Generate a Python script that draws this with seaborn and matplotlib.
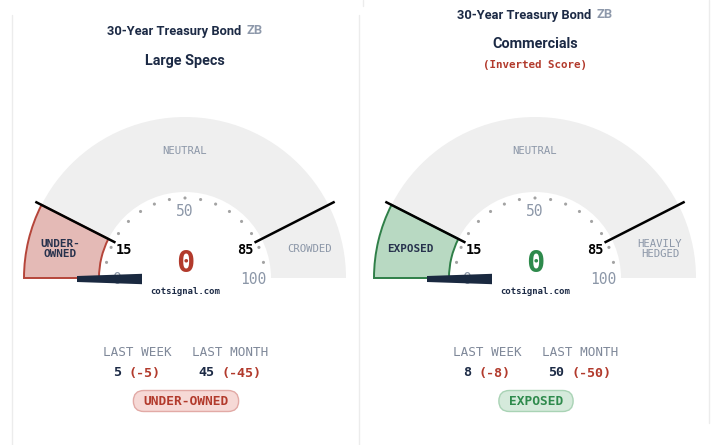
import numpy as np
import pandas as pd
import matplotlib
matplotlib.use("Agg")
import matplotlib.pyplot as plt
from matplotlib import font_manager
from matplotlib.patches import Wedge, Polygon, FancyBboxPatch
import seaborn as sns

# ---------------- data ----------------
instrument = "30-Year Treasury Bond"
ticker = "ZB"
panel_titles = ["Large Specs", "Commercials"]
panel_subtitles = ["", "(Inverted Score)"]
scores = [0, 0]
last_week = [5, 8]
last_week_change = [-5, -8]
last_month = [45, 50]
last_month_change = [-45, -50]
low_threshold = 15
high_threshold = 85
scale_labels = [0, 50, 100]
low_zone_labels = ["UNDER-\nOWNED", "EXPOSED"]
mid_zone_label = "NEUTRAL"
high_zone_labels = ["CROWDED", "HEAVILY\nHEDGED"]
status_labels = ["UNDER-OWNED", "EXPOSED"]
watermark = "cotsignal.com"

# ---------------- style ----------------
W, H = 719, 445
sns.set_theme(style="white")
plt.rcParams["font.family"] = ["DejaVu Sans"]
MONO = "DejaVu Sans Mono"
_names = {f.name for f in font_manager.fontManager.ttflist}
SANS = "Liberation Sans Narrow" if "Liberation Sans Narrow" in _names else "Roboto"
TSIZE = 10.0 if SANS != "Roboto" else 9.3
SUBSIZE = 11.3 if SANS != "Roboto" else 10.4
NAVY = "#1c2a45"
GREYTXT = "#8c97a8"
RED = "#b23a2c"
zone_fill = ["#e4bab6", "#b8d9c2"]
zone_edge = ["#b5453a", "#2f7f48"]
score_color = ["#b23a2c", "#2e8a4c"]
pill_fill = ["#f6d9d6", "#d5eadb"]
pill_edge = ["#e2aaa6", "#a9d3b5"]
pill_text = ["#b23a2c", "#2e8a4c"]

fig = plt.figure(figsize=(W / 100, H / 100), dpi=100)
ax = fig.add_axes([0, 0, 1, 1])
ax.set_xlim(0, W)
ax.set_ylim(H, 0)
ax.axis("off")
renderer = fig.canvas.get_renderer()


def text_width(s, **kw):
    t = ax.text(0, 0, s, **kw)
    bb = t.get_window_extent(renderer=renderer)
    t.remove()
    return bb.width


def centered_segments(xc, y, segs, gap=0, **kw):
    widths = [text_width(s, **kw) for s, c in segs]
    total = sum(widths) + gap * (len(segs) - 1)
    x = xc - total / 2
    for (s, c), w in zip(segs, widths):
        ax.text(x, y, s, color=c, ha="left", va="center", **kw)
        x += w + gap


def ang(v):
    return np.deg2rad(180 - v * 1.8)


# panel borders
for x, y0, y1 in [(12, 15, H), (359, 15, H), (362.5, 0, 6), (709, 0, 423)]:
    ax.plot([x, x], [y0, y1], color="#ececec", lw=1, zorder=0)

centers = [185, 535]
CY = 278
R_OUT, R_IN = 161, 86

# tick dots data
dot_vals = np.arange(1, 16) * 100 / 16
dot_rows = []
for i, cx in enumerate(centers):
    for v in dot_vals:
        dot_rows.append({"x": cx + 80 * np.cos(ang(v)), "y": CY - 80 * np.sin(ang(v))})
dots = pd.DataFrame(dot_rows)

for i, cx in enumerate(centers):
    # header
    if panel_subtitles[i]:
        centered_segments(cx, 15, [(instrument, NAVY), (ticker, "#8e99ab")], gap=5,
                          fontfamily=SANS, fontweight="bold", fontsize=TSIZE)
        ax.text(cx, 44, panel_titles[i], ha="center", va="center", color=NAVY,
                fontfamily=SANS, fontweight="bold", fontsize=SUBSIZE)
        ax.text(cx, 65, panel_subtitles[i], ha="center", va="center", color=RED,
                fontfamily=MONO, fontweight="bold", fontsize=7.8)
    else:
        centered_segments(cx, 31, [(instrument, NAVY), (ticker, "#8e99ab")], gap=5,
                          fontfamily=SANS, fontweight="bold", fontsize=TSIZE)
        ax.text(cx, 61, panel_titles[i], ha="center", va="center", color=NAVY,
                fontfamily=SANS, fontweight="bold", fontsize=SUBSIZE)

    # gauge background (y axis inverted -> angles mirrored)
    ax.add_patch(Wedge((cx, CY), R_OUT, 180, 360, width=R_OUT - R_IN,
                       facecolor="#efefef", edgecolor="none", zorder=1))
    t_low = 180 + low_threshold * 1.8
    ax.add_patch(Wedge((cx, CY), R_OUT, 180, t_low, width=R_OUT - R_IN,
                       facecolor=zone_fill[i], edgecolor=zone_edge[i], lw=1.4, zorder=2))
    # threshold lines
    for v in [low_threshold, high_threshold]:
        a = ang(v)
        ax.plot([cx + 78 * np.cos(a), cx + 168 * np.cos(a)],
                [CY - 78 * np.sin(a), CY - 168 * np.sin(a)],
                color="black", lw=1.8, zorder=4, solid_capstyle="butt")

    # zone labels
    ax.text(cx - 125, 249, low_zone_labels[i], ha="center", va="center",
            color="#27324d", fontfamily=MONO, fontweight="bold", fontsize=7.9,
            linespacing=1.0, zorder=5)
    ax.text(cx, 151, mid_zone_label, ha="center", va="center", color=GREYTXT,
            fontfamily=MONO, fontsize=7.7, zorder=5)
    ax.text(cx + 125, 249, high_zone_labels[i], ha="center", va="center",
            color=GREYTXT, fontfamily=MONO, fontsize=7.7, linespacing=1.0, zorder=5)

    # scale labels
    for v in scale_labels:
        a = ang(v)
        ax.text(cx + 68 * np.cos(a), CY + 1 - 67 * np.sin(a), str(v), ha="center",
                va="center", color=GREYTXT, fontfamily=MONO, fontsize=10.5, zorder=5)
    for v in [low_threshold, high_threshold]:
        a = ang(v)
        ax.text(cx + 68 * np.cos(a), CY + 2 - 67 * np.sin(a), str(v), ha="center",
                va="center", color="black", fontfamily=MONO, fontweight="bold",
                fontsize=9.8, zorder=5)

    # needle
    a = ang(scores[i])
    ux, uy = np.cos(a), -np.sin(a)
    nx, ny = -uy, ux
    r0, r1, w0, w1 = 43, 108, 5.2, 3.0
    ncy = CY + 1
    pts = [(cx + r0 * ux + w0 * nx, ncy + r0 * uy + w0 * ny),
           (cx + r1 * ux + w1 * nx, ncy + r1 * uy + w1 * ny),
           (cx + r1 * ux - w1 * nx, ncy + r1 * uy - w1 * ny),
           (cx + r0 * ux - w0 * nx, ncy + r0 * uy - w0 * ny)]
    ax.add_patch(Polygon(pts, closed=True, facecolor="#1a2940", edgecolor="none", zorder=6))

    # score
    ax.text(cx, 263, str(scores[i]), ha="center", va="center", color=score_color[i],
            fontfamily=MONO, fontweight="bold", fontsize=22, zorder=5)
    ax.text(cx, 292, watermark, ha="center", va="center", color=NAVY,
            fontfamily=MONO, fontweight="bold", fontsize=6.4, zorder=5)

    # history
    lw_x, lm_x = cx - 48, cx + 45
    ax.text(lw_x, 352, "LAST WEEK", ha="center", va="center", color="#7f8899",
            fontfamily=MONO, fontsize=9.1)
    ax.text(lm_x, 352, "LAST MONTH", ha="center", va="center", color="#7f8899",
            fontfamily=MONO, fontsize=9.1)
    centered_segments(lw_x, 373, [(str(last_week[i]), NAVY),
                                  (f"({last_week_change[i]})", RED)], gap=7,
                      fontfamily=MONO, fontweight="bold", fontsize=9.6)
    centered_segments(lm_x, 373, [(str(last_month[i]), NAVY),
                                  (f"({last_month_change[i]})", RED)], gap=7,
                      fontfamily=MONO, fontweight="bold", fontsize=9.6)

    # status pill
    tw = text_width(status_labels[i], fontfamily=MONO, fontweight="bold", fontsize=9.3)
    pw, ph = tw + 20, 21
    ax.add_patch(FancyBboxPatch((cx + 1 - pw / 2, 401 - ph / 2), pw, ph,
                                boxstyle="round,pad=0,rounding_size=10.5",
                                facecolor=pill_fill[i], edgecolor=pill_edge[i], lw=1))
    ax.text(cx + 1, 401.5, status_labels[i], ha="center", va="center", color=pill_text[i],
            fontfamily=MONO, fontweight="bold", fontsize=9.3)

sns.scatterplot(data=dots, x="x", y="y", ax=ax, color="#a3a3a3", s=5,
                edgecolor="none", zorder=3, legend=False)
ax.set_xlim(0, W)
ax.set_ylim(H, 0)
ax.axis("off")

fig.savefig("out.png", dpi=100)
